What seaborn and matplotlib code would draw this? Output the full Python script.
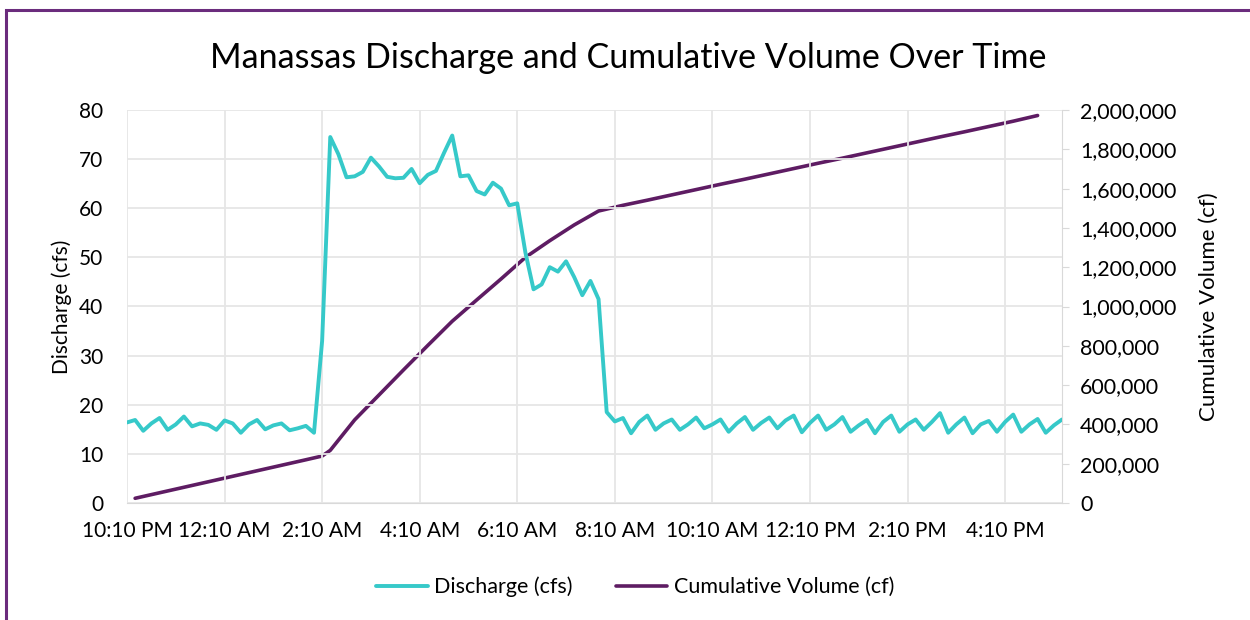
import matplotlib
matplotlib.use("Agg")
import matplotlib.pyplot as plt
from matplotlib.patches import Rectangle
from matplotlib.lines import Line2D
from matplotlib.ticker import FuncFormatter, MultipleLocator
import seaborn as sns

# discharge readings every 10 minutes, starting 10:10 PM
discharge = [
    16.4, 16.9, 14.7, 16.2, 17.3, 14.9, 16.0, 17.6, 15.6, 16.2,
    15.9, 14.9, 16.8, 16.2, 14.3, 16.0, 16.9, 15.0, 15.8, 16.2,
    14.8, 15.2, 15.7, 14.3, 33.0, 74.5, 71.0, 66.3, 66.5, 67.4,
    70.3, 68.5, 66.4, 66.1, 66.2, 68.0, 65.1, 66.8, 67.6, 71.3,
    74.8, 66.5, 66.7, 63.5, 62.8, 65.2, 64.0, 60.6, 61.0, 51.0,
    43.5, 44.5, 48.0, 47.1, 49.2, 46.0, 42.3, 45.2, 41.5, 18.5,
    16.6, 17.3, 14.2, 16.5, 17.8, 14.9, 16.2, 17.0, 14.9, 16.0,
    17.4, 15.2, 16.0, 17.0, 14.5, 16.2, 17.5, 14.9, 16.3, 17.4,
    15.2, 16.8, 17.8, 14.4, 16.3, 17.8, 14.9, 16.0, 17.5, 14.5,
    15.8, 16.9, 14.2, 16.5, 17.8, 14.5, 16.0, 17.0, 14.9, 16.5,
    18.3, 14.3, 16.0, 17.4, 14.2, 16.0, 16.7, 14.5, 16.5, 18.0,
    14.5, 16.0, 17.1, 14.3, 15.8, 17.0,
]
step = list(range(len(discharge)))

# cumulative volume (cf), read at a coarser set of the same 10-minute steps
vol_step = [1, 4, 7, 10, 13, 16, 19, 22, 24, 25, 28, 31, 34, 37, 40, 43, 46,
            49, 52, 55, 58, 61, 64, 67, 70, 73, 76, 79, 82, 85, 88, 91, 94,
            97, 100, 103, 106, 109, 112]
cum_volume = [24000, 52000, 80000, 108000, 136000, 164000, 192000, 220000,
              239000, 268000, 423000, 550000, 677000, 802000, 925000,
              1033000, 1140000, 1250000, 1335000, 1415000, 1486000, 1515000,
              1541000, 1568000, 1595000, 1622000, 1648000, 1675000, 1702000,
              1729000, 1755000, 1782000, 1809000, 1836000, 1863000, 1889000,
              1916000, 1943000, 1972000]

tick_steps = [0, 12, 24, 36, 48, 60, 72, 84, 96, 108]
tick_labels = ["10:10 PM", "12:10 AM", "2:10 AM", "4:10 AM", "6:10 AM",
               "8:10 AM", "10:10 AM", "12:10 PM", "2:10 PM", "4:10 PM"]

cyan = "#36C9C9"
purple = "#5E1C63"
grid_c = "#E6E6E6"
axis_c = "#D9D9D9"

sns.set_style("white")
plt.rcParams["font.family"] = ["Lato", "DejaVu Sans"]
plt.rcParams["text.color"] = "black"

fig = plt.figure(figsize=(12.5, 6.2), dpi=100)
ax = fig.add_axes([127 / 1250, 1 - 503 / 620, 935 / 1250, 393 / 620])
ax2 = ax.twinx()

sns.lineplot(x=step, y=discharge, ax=ax, color=cyan, linewidth=2.8)
sns.lineplot(x=vol_step, y=cum_volume, ax=ax2, color=purple, linewidth=2.6)
for ln in ax.lines + ax2.lines:
    ln.set_solid_joinstyle("round")
    ln.set_solid_capstyle("round")
ax.set_zorder(ax2.get_zorder() + 1)
ax.patch.set_visible(False)

ax.set_xlim(0, len(discharge) - 1)
ax.set_ylim(0, 80)
ax2.set_ylim(0, 2000000)
ax.yaxis.set_major_locator(MultipleLocator(10))
ax2.yaxis.set_major_locator(MultipleLocator(200000))
ax2.yaxis.set_major_formatter(FuncFormatter(lambda v, p: f"{int(v):,}"))

ax.set_xticks(tick_steps)
ax.set_xticklabels(tick_labels)
ax.xaxis.set_minor_locator(MultipleLocator(2))

ax.grid(True, color=grid_c, linewidth=1.3)
ax2.grid(False)
for a in (ax, ax2):
    for s in a.spines.values():
        s.set_visible(False)
ax2.spines["right"].set_visible(True)
ax2.spines["right"].set_color(axis_c)
ax.spines["bottom"].set_visible(True)
ax.spines["bottom"].set_color(axis_c)

ax.tick_params(axis="x", which="both", direction="out", length=5, color=axis_c,
               labelsize=15, pad=8, labelcolor="black")
ax.tick_params(axis="y", length=0, labelsize=15, pad=17, labelcolor="black")
ax2.tick_params(axis="y", direction="out", length=5, color=axis_c,
                labelsize=15.5, pad=8, labelcolor="black")

ax.set_xlabel("")
ax.set_ylabel("Discharge (cfs)", fontsize=15, labelpad=5, color="black")
ax2.set_ylabel("Cumulative Volume (cf)", fontsize=16, labelpad=16, color="black")

fig.text(628 / 1250, 1 - 58 / 620, "Manassas Discharge and Cumulative Volume Over Time",
         ha="center", va="center", fontsize=24.5, color="black")

handles = [Line2D([], [], color=cyan, linewidth=2.8),
           Line2D([], [], color=purple, linewidth=2.6)]
fig.legend(handles, ["Discharge (cfs)", "Cumulative Volume (cf)"],
           loc="center", bbox_to_anchor=(635 / 1250, 1 - 587 / 620), ncol=2,
           frameon=False, fontsize=15.5, handlelength=2.4, handletextpad=0.3,
           columnspacing=2.0)

# chart border
fig.patches.append(Rectangle((6 / 1250, -0.02), 1.02, 1 - 10 / 620 + 0.02,
                             transform=fig.transFigure, fill=False,
                             edgecolor="#6B2C7D", linewidth=2.2))

fig.savefig("out.png", dpi=100)
